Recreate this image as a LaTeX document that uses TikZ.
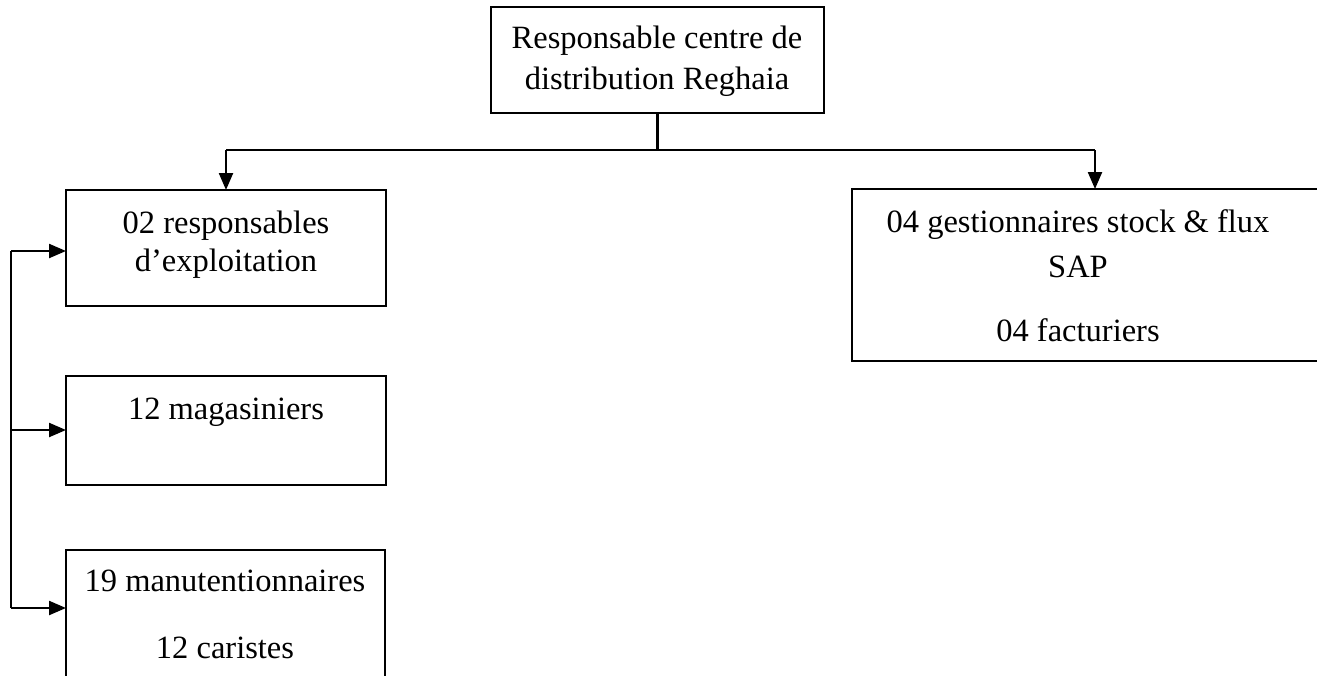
\documentclass[tikz,border=0pt]{standalone}
\usepackage{fontspec}
\setmainfont{Liberation Serif}
\usetikzlibrary{arrows.meta}
\begin{document}
\begin{tikzpicture}[x=1pt,y=-1pt,
  box/.style={draw, line width=2.3pt, rectangle, inner sep=0pt, outer sep=0pt, anchor=north west},
  lbl/.style={anchor=base, inner sep=0pt, font=\fontsize{32.5}{39}\selectfont},
  link/.style={line width=2.3pt},
  arr/.style={line width=2.3pt, -{Triangle[length=17pt,width=14pt]}}]
\useasboundingbox (0,0) rectangle (1317,675);
\clip (0,0) rectangle (1317,675);

% boxes
\node[box, minimum width=333pt, minimum height=106pt] (top) at (491,7) {};
\node[box, minimum width=320pt, minimum height=116pt] (b1) at (66,190) {};
\node[box, minimum width=320pt, minimum height=109pt] (b2) at (66,376) {};
\node[box, minimum width=319pt, minimum height=150pt] (b3) at (66,550) {};
\node[box, minimum width=483pt, minimum height=172pt] (rb) at (852,189) {};

% texts
\node[lbl] (t1) at (657,48) {Responsable centre de};
\node[lbl] (t2) at (657,89) {distribution Reghaia};
\node[lbl] (l1a) at (226,233) {02 responsables};
\node[lbl] (l1b) at (226,271) {d’exploitation};
\node[lbl] (l2) at (226,419) {12 magasiniers};
\node[lbl] (l3a) at (225,591) {19 manutentionnaires};
\node[lbl] (l3b) at (225,658) {12 caristes};
\node[lbl] (r1) at (1078,232) {04 gestionnaires stock \& flux};
\node[lbl] (r2) at (1078,277) {SAP};
\node[lbl] (r3) at (1078,341) {04 facturiers};

% top-level connectors
\coordinate (hub) at (657.5,150);
\coordinate (rdrop) at (1095,150);
\draw[link] (top.south) -- (hub);
\draw[link] (hub -| b1.north) -- (rdrop);
\draw[arr] (hub -| b1.north) -- (b1.north);
\draw[arr] (rdrop) -- (rdrop |- rb.north);

% left spine
\coordinate (a1) at (11,251);
\coordinate (a2) at (11,430);
\coordinate (a3) at (11,608);
\draw[link] (a1) -- (a3);
\draw[arr] (a1) -- (a1 -| b1.west);
\draw[arr] (a2) -- (a2 -| b2.west);
\draw[arr] (a3) -- (a3 -| b3.west);
\end{tikzpicture}
\end{document}
